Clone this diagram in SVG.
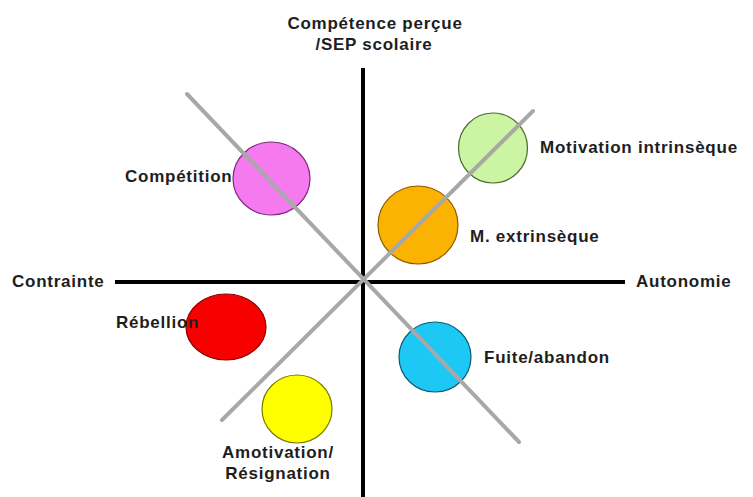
<svg xmlns="http://www.w3.org/2000/svg" width="753" height="497" viewBox="0 0 753 497">
<style>
.lbl{font-family:"Liberation Sans",Arial,sans-serif;font-weight:bold;font-size:17px;letter-spacing:0.75px;fill:#1e1e1e}
.axis{stroke:#000;stroke-width:4;fill:none}
.diag{stroke:#a8a8a8;stroke-width:4;fill:none;stroke-linecap:round}
.c{stroke-width:1.2}
</style>
<rect width="753" height="497" fill="#fff"/>
<g id="connectors">
<line class="axis" x1="363" y1="68" x2="363" y2="497"/>
<line class="axis" x1="115" y1="282" x2="625" y2="282"/>
</g>
<g id="n-intrinseque"><ellipse class="c" cx="493" cy="148" rx="34.5" ry="35" fill="#ccf5a3" stroke="#4a6a2a"/><text class="lbl" x="540" y="153">Motivation intrinsèque</text></g>
<g id="n-extrinseque"><ellipse class="c" cx="418" cy="225" rx="40" ry="39" fill="#fbb200" stroke="#8a5a00"/><text class="lbl" x="470" y="242">M. extrinsèque</text></g>
<g id="n-competition"><ellipse class="c" cx="271.5" cy="178.5" rx="38.5" ry="36.5" fill="#f57af0" stroke="#7a2a78"/><text class="lbl" x="125" y="182">Compétition</text></g>
<g id="n-rebellion"><ellipse class="c" cx="226" cy="327" rx="40" ry="33" fill="#f60000" stroke="#8a0000"/><text class="lbl" x="116" y="328">Rébellion</text></g>
<g id="n-fuite"><ellipse class="c" cx="435" cy="357" rx="36" ry="35" fill="#1ec8f5" stroke="#0a5a70"/><text class="lbl" x="484" y="363">Fuite/abandon</text></g>
<g id="n-amotivation"><ellipse class="c" cx="297" cy="409" rx="35" ry="34" fill="#ffff00" stroke="#7a7a00"/><text class="lbl" x="278" y="458" text-anchor="middle">Amotivation/</text><text class="lbl" x="278" y="479" text-anchor="middle">Résignation</text></g>
<g id="diagonals">
<line class="diag" x1="187" y1="94" x2="519" y2="442"/>
<line class="diag" x1="533" y1="111" x2="222" y2="420"/>
</g>
<g id="axis-labels">
<text class="lbl" x="375" y="29" text-anchor="middle">Compétence perçue</text>
<text class="lbl" x="374" y="50" text-anchor="middle">/SEP scolaire</text>
<text class="lbl" x="12" y="287">Contrainte</text>
<text class="lbl" x="636" y="287">Autonomie</text>
</g>
</svg>
